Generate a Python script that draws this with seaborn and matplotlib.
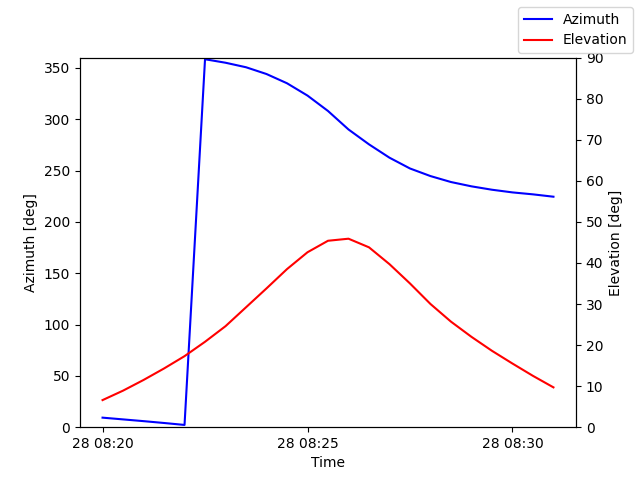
import numpy as np
import pandas as pd
import matplotlib
matplotlib.use("Agg")
import matplotlib.pyplot as plt
import seaborn as sns

# ── Data (30 s steps) ────────────────────────────────────────────────────────
times = pd.date_range("2024-01-28 08:20:00", "2024-01-28 08:31:00", freq="30s")

azimuth = [9.3, 7.6, 5.9, 4.1, 2.2,
           358.4, 355.0, 350.6, 344.0, 335.0, 323.0, 308.0, 290.0,
           275.5, 262.5, 252.0, 244.6, 238.8, 234.6, 231.3, 228.7,
           226.8, 224.5]

elevation = [6.6, 8.9, 11.5, 14.3, 17.3, 20.8, 24.6, 29.2, 33.8, 38.5,
             42.6, 45.4, 45.9, 43.8, 39.7, 35.0, 30.0, 25.7, 22.0, 18.6,
             15.5, 12.5, 9.7]

df = pd.DataFrame({"Time": times, "Azimuth": azimuth, "Elevation": elevation})

# ── Plot ──────────────────────────────────────────────────────────────────────
fig, ax = plt.subplots(figsize=(6.4, 4.8), dpi=100)
sns.lineplot(data=df, x="Time", y="Azimuth", ax=ax, color="b", label="Azimuth")
ax.set_ylim(0, 360)
ax.set_xlabel("Time")
ax.set_ylabel("Azimuth [deg]")

ax2 = ax.twinx()
sns.lineplot(data=df, x="Time", y="Elevation", ax=ax2, color="r", label="Elevation")
ax2.set_ylim(0, 90)
ax2.set_ylabel("Elevation [deg]")

for a in (ax, ax2):
    if a.get_legend() is not None:
        a.get_legend().remove()

h1, l1 = ax.get_legend_handles_labels()
h2, l2 = ax2.get_legend_handles_labels()
fig.legend(h1 + h2, l1 + l2, loc="upper right")

ax.xaxis.set_major_locator(matplotlib.dates.MinuteLocator(byminute=[20, 25, 30]))
ax.xaxis.set_major_formatter(matplotlib.dates.DateFormatter("%d %H:%M"))

plt.savefig("out.png")
